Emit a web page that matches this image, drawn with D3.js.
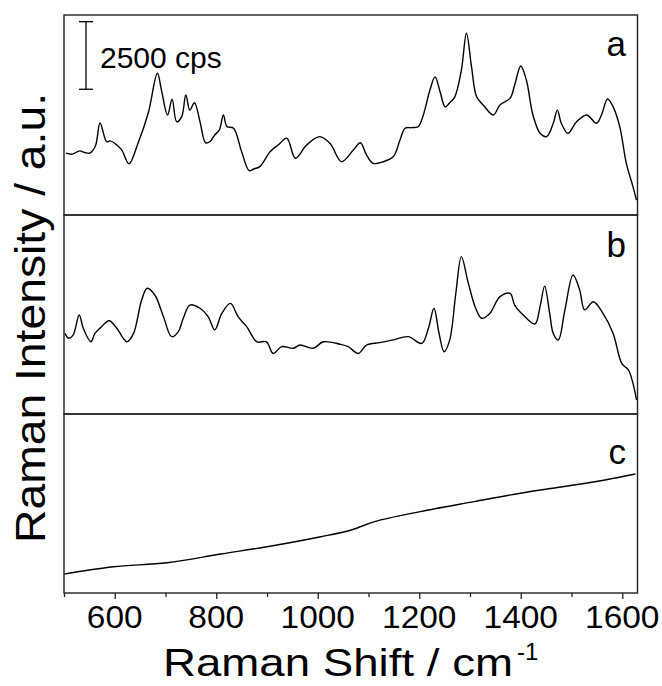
<!DOCTYPE html>
<html>
<head>
<meta charset="utf-8">
<script src="https://cdnjs.cloudflare.com/ajax/libs/d3/7.8.5/d3.min.js"></script>
<style>
  body { margin: 0; background: #fff; }
  svg text { font-family: "Liberation Sans", Arial, sans-serif; fill: #000; }
</style>
</head>
<body>
<svg id="chart" width="662" height="686"></svg>
<script>
// spectrum a: raman shift (cm-1) and intensity (cps above panel floor)
var shiftA = [504, 516, 531, 541, 551, 562, 571, 584, 591, 604, 614, 628, 646, 666, 684, 692, 704, 713, 722, 732, 740, 748, 757, 768,
  779, 788, 797, 806, 814, 821, 834, 850, 865, 875, 886, 906, 922, 939, 956, 978, 1004, 1024, 1047, 1070, 1084, 1096, 1109,
  1129, 1149, 1162, 1172, 1185, 1198, 1208, 1221, 1231, 1241, 1251, 1260, 1270, 1283, 1293, 1303, 1313, 1326, 1346, 1359,
  1379, 1388, 1400, 1411, 1424, 1438, 1451, 1464, 1472, 1480, 1493, 1510, 1530, 1549, 1559, 1571, 1582, 1595,
  1608, 1621, 1628];
var intensityA = [2290, 2250, 2370, 2310, 2290, 2560, 3400, 2710, 2740, 2590, 2400, 1890, 2660, 3770, 5240, 4620, 3700, 4280, 3450, 3640, 4440, 3880, 4150, 3450,
  2670, 2720, 2960, 3140, 3700, 3270, 3210, 2340, 1640, 1710, 1790, 2340, 2590, 2840, 2100, 2590, 2900, 2650, 1970, 2400, 2670, 2220, 1910,
  1970, 2160, 2770, 3210, 3230, 3270, 3700, 4620, 5110, 4560, 4000, 4150, 4370, 5360, 6720, 5480, 4370, 4070, 3700, 4070,
  4320, 4810, 5510, 4990, 3700, 3020, 2900, 3390, 3880, 3390, 3020, 3450, 3700, 3390, 3700, 4290, 4000, 3270,
  1910, 1050, 550];

// spectrum b
var shiftB = [502, 509, 518, 530, 538, 553, 561, 574, 589, 604, 624, 637, 653, 664, 679, 696, 712, 725, 735, 748,
  768, 784, 797, 811, 828, 843, 860, 880, 899, 912, 929, 952, 965, 991, 1011, 1044, 1060, 1080, 1096, 1122,
  1149, 1178, 1205, 1218, 1229, 1239, 1249, 1260, 1272, 1283, 1296, 1310, 1323, 1339, 1359, 1379, 1388, 1405,
  1428, 1438, 1447, 1457, 1464, 1474, 1487, 1503, 1516, 1526, 1543, 1562, 1582, 1599, 1612, 1621, 1628];
var intensityB = [2980, 2800, 2920, 3660, 3170, 2670, 2980, 3230, 3450, 3170, 2670, 2980, 4220, 4650, 4400, 3600, 2860, 3040, 3540, 4030,
  3910, 3600, 3110, 3720, 4090, 3600, 3230, 2670, 2670, 2240, 2490, 2430, 2550, 2430, 2670, 2580, 2490, 2240, 2550, 2640,
  2740, 2860, 2610, 3170, 3910, 2980, 2300, 2740, 4460, 5820, 4890, 3970, 3540, 3720, 4340, 4460, 4030, 3660,
  3330, 3970, 4730, 3720, 2980, 2740, 3850, 5140, 4590, 3850, 4150, 3720, 2980, 1870, 1630, 1140, 520];

// spectrum c
var shiftC = [500, 597, 703, 809, 900, 1006, 1066, 1112, 1202, 1308, 1399, 1475, 1566, 1626];
var intensityC = [700, 970, 1120, 1440, 1710, 2080, 2330, 2640, 3010, 3380, 3690, 3910, 4180, 4400];

var panelNames = ["a", "b", "c"];
var xTicks = [500, 600, 700, 800, 900, 1000, 1100, 1200, 1300, 1400, 1500, 1600];
var xTickLabels = [600, 800, 1000, 1200, 1400, 1600];
var scaleBarCps = 2500;

var svg = d3.select("#chart");
var left = 64, right = 637.5;
var cpsPerPx = scaleBarCps / 67.6;

var x = d3.scaleLinear().domain([500, 1630]).range([left, right]);

var panels = [
  { name: panelNames[0], top: 15, bottom: 215, shift: shiftA, value: intensityA, labelY: 56 },
  { name: panelNames[1], top: 215, bottom: 414, shift: shiftB, value: intensityB, labelY: 257 },
  { name: panelNames[2], top: 414, bottom: 593, shift: shiftC, value: intensityC, labelY: 464 }
];

panels.forEach(function (p) {
  p.y = d3.scaleLinear()
    .domain([0, (p.bottom - p.top) * cpsPerPx])
    .range([p.bottom, p.top]);

  var pts = d3.zip(p.shift, p.value);
  var line = d3.line()
    .curve(d3.curveCatmullRom.alpha(0.5))
    .x(function (d) { return x(d[0]); })
    .y(function (d) { return p.y(d[1]); });

  svg.append("path")
    .datum(pts)
    .attr("d", line)
    .style("fill", "none")
    .style("stroke", "#000")
    .style("stroke-width", 1.4)
    .style("stroke-linejoin", "round");

  svg.append("rect")
    .attr("x", left)
    .attr("y", p.top)
    .attr("width", right - left)
    .attr("height", p.bottom - p.top)
    .style("fill", "none")
    .style("stroke", "#222")
    .style("stroke-width", 1.4);

  svg.append("text")
    .attr("x", 626)
    .attr("y", p.labelY)
    .attr("text-anchor", "end")
    .style("font-size", "35px")
    .text(p.name);
});

//scale bar in panel a
var yA = panels[0].y;
var barX = 86, barBase = 4650;
svg.append("line")
  .attr("x1", barX).attr("x2", barX)
  .attr("y1", yA(barBase)).attr("y2", yA(barBase + scaleBarCps))
  .style("stroke", "#000").style("stroke-width", 1.3);
[barBase, barBase + scaleBarCps].forEach(function (v) {
  svg.append("line")
    .attr("x1", barX - 7).attr("x2", barX + 7)
    .attr("y1", yA(v)).attr("y2", yA(v))
    .style("stroke", "#000").style("stroke-width", 1.3);
});
svg.append("text")
  .attr("x", 100)
  .attr("y", 68)
  .style("font-size", "30px")
  .text(scaleBarCps + " cps");

//bottom axis
var axis = d3.axisBottom(x)
  .tickValues(xTicks)
  .tickSize(5)
  .tickFormat("");
var gx = svg.append("g")
  .attr("transform", "translate(0,593)")
  .call(axis);
gx.select(".domain").remove();
gx.selectAll(".tick line")
  .style("stroke", "#222")
  .style("stroke-width", 1.3)
  .attr("y2", function (d) { return xTickLabels.indexOf(d) >= 0 ? 6 : 4; });

svg.selectAll(".xlabel")
  .data(xTickLabels)
  .enter()
  .append("text")
  .attr("class", "xlabel")
  .attr("x", function (d) { return x(d); })
  .attr("y", 628)
  .attr("text-anchor", "middle")
  .style("font-size", "31px")
  .attr("textLength", function (d) { return String(d).length * 18.6; })
  .attr("lengthAdjust", "spacingAndGlyphs")
  .text(function (d) { return d; });

//axis titles
svg.append("text")
  .attr("x", 163)
  .attr("y", 676)
  .style("font-size", "39px")
  .attr("textLength", 350)
  .attr("lengthAdjust", "spacingAndGlyphs")
  .text("Raman Shift / cm");
svg.append("text")
  .attr("x", 517)
  .attr("y", 660)
  .style("font-size", "24px")
  .text("-1");

svg.append("text")
  .attr("transform", "translate(45,318) rotate(-90)")
  .attr("text-anchor", "middle")
  .style("font-size", "42px")
  .attr("textLength", 450)
  .attr("lengthAdjust", "spacingAndGlyphs")
  .text("Raman Intensity / a.u.");
</script>
</body>
</html>
